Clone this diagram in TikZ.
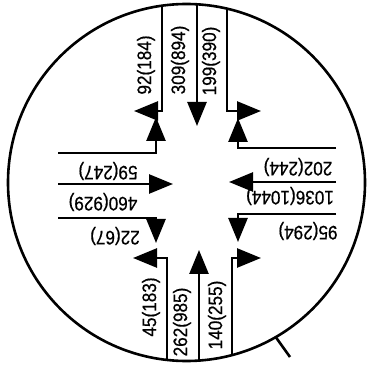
\documentclass[tikz,border=0pt]{standalone}
\usepackage{fontspec}
\setmainfont{Liberation Sans}
\newfontfamily\countfont[FakeStretch=0.88, FakeBold=0.6]{Liberation Sans}
\usetikzlibrary{arrows.meta}

\begin{document}
\begin{tikzpicture}[
    x=1pt, y=-1pt,
    lane/.style={line width=2.6pt},
    flow/.style={line width=2.6pt, -{Triangle[length=24pt,width=19pt]}},
    count/.style={font=\countfont\fontsize{19.5}{19.5}\selectfont, inner sep=0pt},
    vcount/.style={count, rotate=90},
    hcount/.style={count, rotate=180}]
    \useasboundingbox (0,0) rectangle (367,366);
    \node [circle, draw, line width=2.6pt, minimum size=357pt, inner sep=0pt, outer sep=0pt] (ring) at (186.5,182.5) {};
    \coordinate (tick) at (290,357);
    \draw[lane] (ring.-60) -- (tick);
    % north
    \coordinate (na-in) at (162,5.7);
    \coordinate (na-out) at (134,111);
    \coordinate (nb-in) at (197,4.3);
    \coordinate (nb-out) at (197,126);
    \coordinate (nc-in) at (227,8.7);
    \coordinate (nc-out) at (261,111);
    % west
    \coordinate (wa-in) at (58,153);
    \coordinate (wa-out) at (156,117);
    \coordinate (wb-in) at (58,184);
    \coordinate (wb-out) at (173,184);
    \coordinate (wc-in) at (58,218);
    \coordinate (wc-out) at (156,243);
    % east
    \coordinate (ea-in) at (336,148);
    \coordinate (ea-out) at (238,118);
    \coordinate (eb-in) at (336,182);
    \coordinate (eb-out) at (229,182);
    \coordinate (ec-in) at (336,214);
    \coordinate (ec-out) at (238,242);
    % south
    \coordinate (sa-in) at (167,359.9);
    \coordinate (sa-out) at (133,258);
    \coordinate (sb-in) at (199,360.6);
    \coordinate (sb-out) at (199,250);
    \coordinate (sc-in) at (232,355.1);
    \coordinate (sc-out) at (261,258);
    \draw[flow] (na-in) |- (na-out);
    \draw[flow] (nb-in) -- (nb-out);
    \draw[flow] (nc-in) |- (nc-out);
    \draw[flow] (wa-in) -| (wa-out);
    \draw[flow] (wb-in) -- (wb-out);
    \draw[flow] (wc-in) -| (wc-out);
    \draw[flow] (ea-in) -| (ea-out);
    \draw[flow] (eb-in) -- (eb-out);
    \draw[flow] (ec-in) -| (ec-out);
    \draw[flow] (sa-in) |- (sa-out);
    \draw[flow] (sb-in) -- (sb-out);
    \draw[flow] (sc-in) |- (sc-out);
    % counts
    \node[vcount] (na-lbl) at (146,65) {92(184)};
    \node[vcount] (nb-lbl) at (180,60) {309(894)};
    \node[vcount] (nc-lbl) at (211,61) {199(390)};
    \node[hcount] (wa-lbl) at (108,171) {59(247)};
    \node[hcount] (wb-lbl) at (103,202) {460(929)};
    \node[hcount] (wc-lbl) at (115,236) {22(67)};
    \node[hcount] (ea-lbl) at (298,167) {202(244)};
    \node[hcount] (eb-lbl) at (290,196) {1036(1044)};
    \node[hcount] (ec-lbl) at (308,231) {95(294)};
    \node[vcount] (sa-lbl) at (151,307) {45(183)};
    \node[vcount] (sb-lbl) at (182,322) {262(985)};
    \node[vcount] (sc-lbl) at (217,315) {140(255)};
\end{tikzpicture}
\end{document}
